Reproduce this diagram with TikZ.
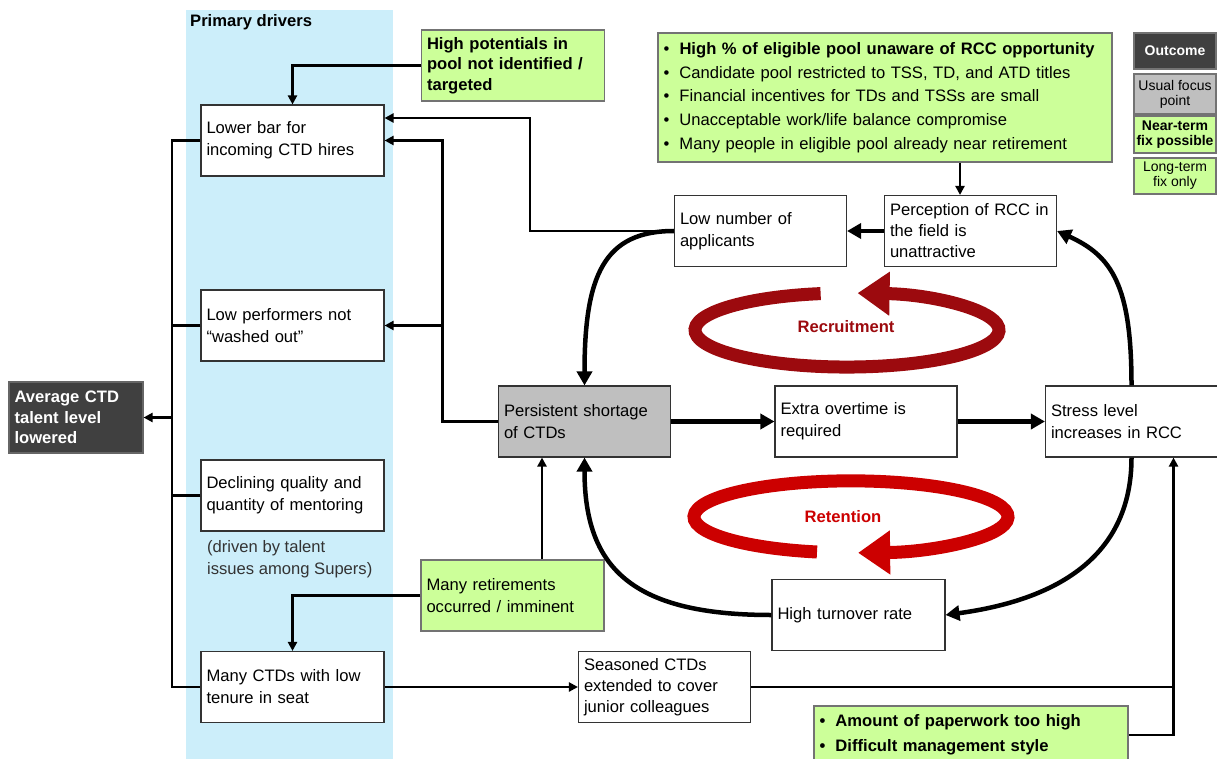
\documentclass[tikz,border=0pt]{standalone}
\usepackage{fontspec}
\setmainfont{Liberation Sans}
\usetikzlibrary{arrows.meta}
\definecolor{bandblue}{HTML}{CCEEFA}
\definecolor{fixgreen}{HTML}{CCFF99}
\definecolor{outgray}{HTML}{404040}
\definecolor{focusgray}{HTML}{BFBFBF}
\definecolor{recred}{HTML}{9C0A0E}
\definecolor{retred}{HTML}{CC0000}
\newcommand\bul{\makebox[16pt][l]{\textbullet}}
\tikzset{
  box/.style={draw=black!80,line width=1.1pt,fill=white,align=left,inner xsep=5.5pt,inner ysep=0pt,
    minimum height=71pt,font=\fontsize{16.6}{22}\selectfont},
  wbox/.style={box,text width=172pt},
  nbox/.style={box,text width=161pt},
  gbox/.style={box,draw=black!55,fill=fixgreen},
  lgbox/.style={draw=black!55,line width=1.1pt,align=center,inner sep=0pt,minimum width=82pt,
    font=\fontsize{14}{15}\selectfont},
  link/.style={line width=2.2pt},
  heavy/.style={line width=4.5pt},
  arr/.style={-{Triangle[length=9pt,width=9pt]}},
  bigarr/.style={-{Triangle[length=14pt,width=15pt]}},
  cyclearrow/.style={line width=13pt,-{Triangle[length=32pt,width=42pt]}}
}
\begin{document}
\begin{tikzpicture}[x=1pt,y=-1pt]
\useasboundingbox (0,0) rectangle (1217,759);
\clip (0,0) rectangle (1217,759);
\fill[bandblue] (186,10) rectangle (393,770);
\node[anchor=west,inner sep=0pt,font=\bfseries\fontsize{16.6}{20}\selectfont] (drivers) at (190,22.5) {Primary drivers};
% primary drivers
\node[wbox] (lower) at (292.5,140.5) {Lower bar for\\incoming CTD hires};
\node[wbox] (lowperf) at (292.5,325.5) {Low performers not\\“washed out”};
\node[wbox] (mentor) at (292.5,495.5) {Declining quality and\\quantity of mentoring};
\node[anchor=west,align=left,inner sep=0pt,text=black!80,font=\fontsize{16.6}{22}\selectfont] (mentornote) at (207,559) {(driven by talent\\issues among Supers)};
\node[wbox] (tenure) at (292.5,687) {Many CTDs with low\\tenure in seat};
\node[box,fill=outgray,draw=black!60,text=white,text width=123pt,font=\bfseries\fontsize{16.6}{20.5}\selectfont] (avg) at (76,417.5) {Average CTD\\talent level\\lowered};
% fixes
\node[gbox,text width=172pt,font=\bfseries\fontsize{16.6}{20.5}\selectfont] (hipot) at (513,65.5) {High potentials in\\pool not identified /\\targeted};
\node[gbox,text width=172pt] (retire) at (512.5,595.5) {Many retirements\\occurred / imminent};
\node[gbox,text width=443pt,minimum height=129pt,font=\fontsize{16.6}{23.75}\selectfont] (pool) at (885,97.5) {\bul\textbf{High \% of eligible pool unaware of RCC opportunity}\\
  \bul Candidate pool restricted to TSS, TD, and ATD titles\\
  \bul Financial incentives for TDs and TSSs are small\\
  \bul Unacceptable work/life balance compromise\\
  \bul Many people in eligible pool already near retirement};
\node[gbox,text width=303pt,minimum height=58pt,font=\bfseries\fontsize{16.6}{25}\selectfont] (paper) at (971,735) {\bul Amount of paperwork too high\\\bul Difficult management style};
% loop
\node[nbox] (applicants) at (760.5,231) {Low number of\\applicants};
\node[nbox,font=\fontsize{16.6}{21}\selectfont] (percept) at (970.5,231) {Perception of RCC in\\the field is\\unattractive};
\node[nbox,fill=focusgray] (short) at (584.5,421.5) {Persistent shortage\\of CTDs};
\node[box,text width=171pt] (overtime) at (866,421.5) {Extra overtime is\\required};
\node[nbox] (stress) at (1131.5,421.5) {Stress level\\increases in RCC};
\node[box,text width=162pt] (turnover) at (858.5,615) {High turnover rate};
\node[nbox,font=\fontsize{16.6}{21}\selectfont] (seasoned) at (664.5,687) {Seasoned CTDs\\extended to cover\\junior colleagues};
% legend
\node[lgbox,fill=outgray,text=white,minimum height=36pt,font=\bfseries\fontsize{14}{15}\selectfont] (lgout) at (1175,51) {Outcome};
\node[lgbox,fill=focusgray,minimum height=40pt] (lgfocus) at (1175,94) {Usual focus\\point};
\node[lgbox,fill=fixgreen,minimum height=37pt,font=\bfseries\fontsize{14}{15}\selectfont] (lgnear) at (1175,134.5) {Near-term\\fix possible};
\node[lgbox,fill=fixgreen,minimum height=36pt] (lglong) at (1175,176) {Long-term\\fix only};
% cycles
\draw[cyclearrow,recred] (820.6,293.6) arc[start angle=260,end angle=-86,x radius=152,y radius=37];
\draw[cyclearrow,retred] (817,552) arc[start angle=102.5,end angle=447.4,x radius=157,y radius=36];
\node[text=recred,font=\bfseries\fontsize{16.6}{20}\selectfont] (recruit) at (846,327) {Recruitment};
\node[text=retred,font=\bfseries\fontsize{16.6}{20}\selectfont] (retain) at (843,517) {Retention};
% connectors
\coordinate (bus) at (172,0);
\draw[link] (lower.west) -| (bus |- tenure.west) -- (tenure.west);
\draw[link] (lowperf.west) -- (bus |- lowperf.west) (mentor.west) -- (bus |- mentor.west);
\draw[link,arr] (bus |- avg.east) -- (avg.east);
\draw[link,arr] (hipot.west) -| (lower.north);
\draw[link,arr] (applicants.west) -- (530,231) |- ([yshift=22.5pt]lower.east);
\draw[link,arr] (short.west) -| ([xshift=58pt]lower.east) -- (lower.east);
\draw[link,arr] ([xshift=58pt]lowperf.east) -- (lowperf.east);
\draw[link,arr] ([xshift=-10.5pt]percept.north |- pool.south) -- ([xshift=-10.5pt]percept.north);
\draw[heavy,bigarr] (percept.west) -- (applicants.east);
\draw[heavy,bigarr] (applicants.west) .. controls +(-70,0) and +(0,-110) .. (short.north);
\draw[heavy,bigarr] (short.east) -- (overtime.west);
\draw[heavy,bigarr] (overtime.east) -- (stress.west);
\draw[heavy,bigarr] (stress.north) .. controls +(0,-100) and +(55,25) .. (percept.east);
\draw[heavy,bigarr] (stress.south) .. controls +(0,100) and +(110,-15) .. (turnover.east);
\draw[heavy,bigarr] (turnover.west) .. controls +(-140,0) and +(0,110) .. (short.south);
\draw[link,arr] ([xshift=29.5pt]retire.north) -- ([xshift=29.5pt]retire.north |- short.south);
\draw[link,arr] (retire.west) -| (tenure.north);
\draw[link,arr] (tenure.east) -- (seasoned.west);
\draw[link,arr] (seasoned.east) -| ([xshift=42pt]stress.south);
\draw[link] (paper.east) -| ([xshift=42pt]stress.south |- seasoned.east);
\end{tikzpicture}
\end{document}
